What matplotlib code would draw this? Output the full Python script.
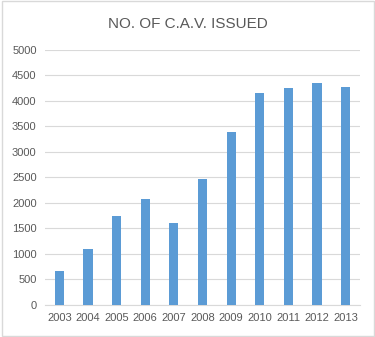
import matplotlib
matplotlib.use("Agg")
import matplotlib.pyplot as plt
from matplotlib.patches import Rectangle

# values
years = ["2003", "2004", "2005", "2006", "2007", "2008", "2009", "2010", "2011", "2012", "2013"]
cav_issued = [667, 1100, 1740, 2070, 1600, 2470, 3400, 4145, 4260, 4350, 4275]

plt.rcParams['font.family'] = ['Liberation Sans', 'DejaVu Sans']

fig = plt.figure(figsize=(3.75, 3.37), dpi=100)
ax = fig.add_axes([0.12, 0.095, 0.84, 0.757])

x = range(len(years))
ax.bar(x, cav_issued, width=0.32, color='#5B9BD5', zorder=3)

ax.set_ylim(0, 5000)
ax.set_xlim(-0.5, len(years) - 0.5)
ax.set_yticks(range(0, 5001, 500))
ax.set_xticks(list(x))
ax.set_xticklabels(years)
ax.grid(axis='y', color='#D9D9D9', linewidth=0.8, zorder=0)
for s in ['top', 'right', 'left']:
    ax.spines[s].set_visible(False)
ax.spines['bottom'].set_color('#D9D9D9')
ax.tick_params(length=0, labelsize=8, colors='#595959', pad=6)

fig.text(0.5, 0.93, "NO. OF C.A.V. ISSUED", ha='center', va='center', fontsize=11, color='#595959')

# light frame around the chart
fig.patches.append(Rectangle((0.004, 0.004), 0.992, 0.992, transform=fig.transFigure,
                             fill=False, edgecolor='#D9D9D9', linewidth=1))

fig.savefig("out.png", dpi=100)
